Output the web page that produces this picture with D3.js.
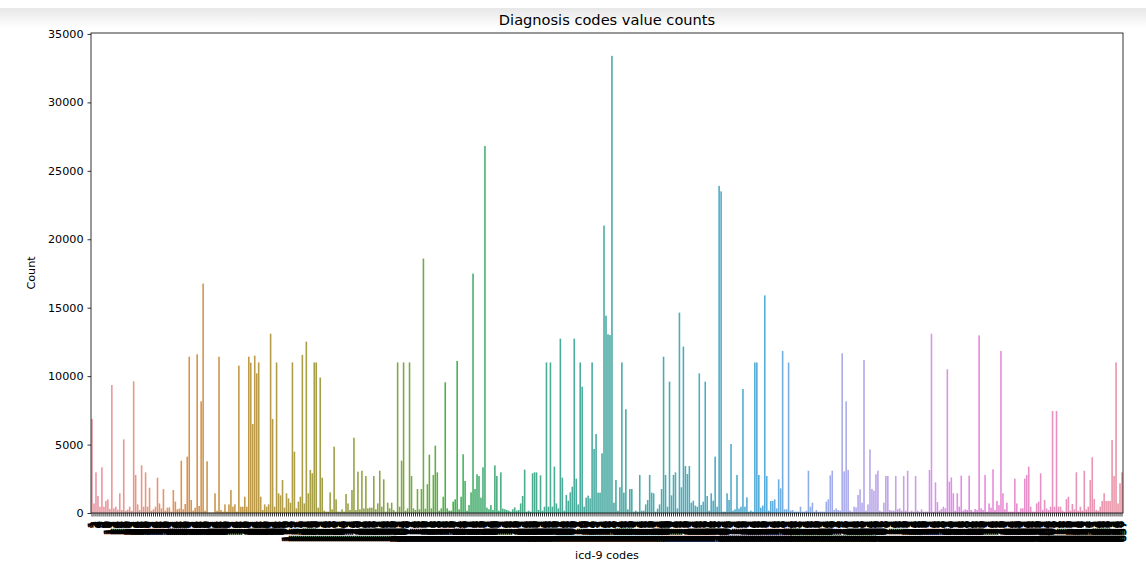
<!DOCTYPE html>
<html>
<head>
<meta charset="utf-8">
<script src="https://cdn.jsdelivr.net/npm/d3@7"></script>
<style>
  body { margin: 0; background: #fff; }
  svg { display: block; font-family: 'DejaVu Sans', sans-serif; }
</style>
</head>
<body>
<div id="vis"></div>
<script>
// value counts, read left to right off the picture (one array per stretch of the axis)
const countsA = [6870,700,2970,1240,460,3340,460,880,1000,300, 9350,340,460,250,1440,220,5380,170,250,460,
  150,9620,2780,630,220,3480,460,2970,460,1850, 170,270,460,2580,700,340,1750,170,390,410,
  100,1680,830,270,320,3820,270,660,4120,11420, 950,170,390,11600,510,8160,16760,170,3780,30,
  30,30,1440,170,11420,220,100,630,100,630, 1680,460,630,100,10770,460,460,1190,460,11420,
  10990,6500,11500,10200];
const countsB = [11000,1190,220,630,460,630,13100,6870,460,11000, 1440,1290,2410,390,1440,1070,755,11000,4480,340,
  830,1190,11550,700,12520,1440,3140,2900,11000,11000, 390,9900,2580,170,100,100,1510,270,4850,1000,
  100,100,270,100,1390,700,220,1680,5500,220, 3020,270,3090,340,2700,340,390,390,2700,270,
  700,3090,460,2460,100,755,340,755,220,100, 11000,460,3820,11000,170,340,11000,2700,340,220,
  1750,270,1750,18590,320,2100,4260,340];
const countsC = [2780,4920,2970,170,340,1190,9550,340,170,170, 830,1000,11110,270,1190,4290,2340,170,580,1510,
  17490,1750,2830,2700,1120,3340,26820,390,270,580, 220,3480,2700,170,2970,320,270,220,170,100,
  270,410,170,220,700,1240,3170,100,170,100, 2900,2970,2970,220,2750,170,460,11000,460,11000,
  460,3390,700,340,12740,2580,170,1315,900,1510, 1920,12740,2510,630,11000,9230,460,1120,1270,1070,
  11000,4680,5770,1490,1490,4360,21000,14420];
const countsD = [13060,13000,33400,755,2410,170,1880,11000,1490,7580, 270,1750,1750,100,170,100,2780,170,170,630,
  950,2780,1490,1440,100,320,630,1750,11420,2780, 460,9600,1290,2780,2970,340,14640,1880,12160,3430,
  2850,3430,755,900,540,460,10200,580,830,9600, 1240,170,1440,900,4120,460,23900,23500,100,100,
  1440,950,5040,170,270,2780,320,460,9060,460, 1140,100,170,100,11000,11000,2780,390,540,15900,
  2700,170,880,880,1000,340,2460,1800];
const countsE = [11840,270,270,11000,170,220,100,100,100,460, 100,100,170,3090,460,755,100,220,100,100,
  100,100,830,1000,2750,3090,220,340,220,170, 11670,3040,8160,3140,170,100,460,410,1315,1730,
  755,11180,170,630,4650,1750,1630,2830,3090,170, 100,755,2700,2700,220,170,170,2700,270,340,
  170,2700,170,3090,100,170,100,2700,170,100, 270,100,100,100,3140,13100,100,2240,800,170,
  290,460,340,10500,2290,2600,1440,170];
const countsF = [1440,460,2730,170,270,220,2730,220,100,290, 220,12980,340,220,2780,100,700,390,3190,220,
  880,580,11840,1440,270,755,100,100,100,2510, 700,100,340,340,2510,2780,3390,460,100,100,
  700,830,2900,220,950,340,220,460,7450,460, 7450,460,460,170,100,1020,1190,170,660,270,
  2970,170,460,170,3090,270,460,2410,4070,1020, 220,170,460,880,1440,880,880,880,5330,2700,
  11000,700,2170,2970];

// icd-9 code labels (unreadable in the picture, one, two and three digit codes in order)
const oneDigitCodes = ['1','2','3','4','5','7','8','9'];
const twoDigitCodes = `10 11 12 13 14 15 16 17 18 19 20 21 22 23 24 25 26 27 28 29 30 31 32 33 34 35 36 37 38 39
  40 41 42 43 44 45 46 47 48 49 50 51 52 53 54 55 56 57 58 59 60 61 62 63 64 65 66 67 68 69
  70 71 72 73 74 75 76 77 78 79 80 81 82 83 84 85 86 87 88 89 90 91 92 93 94 95 96 97 98 99`.trim().split(/\s+/);
const threeDigitCodes = `110 112 114 115 117 131 135 136 141 142 143 145 146 147 149 150 151 152 153 154 155 156 157 158
  160 161 162 163 164 170 171 172 173 174 175 179 180 182 183 184 185 186 187 188 189 191 192 193 194 195 196 197 198 199
  200 201 202 203 204 205 208 210 211 212 214 215 216 217 218 219 220 221 223 225 226 227 228 230 233 235 236 237 238 239
  240 241 242 244 245 246 250 251 252 253 255 256 257 258 259 260 261 262 263 266 268 269 270 271 272 273 274 275 276 277
  278 279 280 281 282 283 284 285 286 287 288 289 290 291 292 293 294 295 296 297 298 299 300 301 303 304 305 306 307 308
  309 310 311 312 314 318 319 320 322 323 324 325 327 331 332 333 334 335 336 337 338 340 341 342 344 345 346 347 348 349
  350 351 352 353 354 355 356 357 358 359 360 361 362 363 364 365 366 368 369 370 372 373 374 375 376 377 378 379 380 381
  382 383 384 385 386 387 388 389 391 394 395 396 397 398 401 402 403 404 405 410 411 412 413 414 415 416 417 420 421 422
  423 424 425 426 427 428 429 430 431 432 433 434 435 436 437 438 440 441 442 443 444 445 446 447 448 451 452 453 454 455
  456 457 458 459 460 461 462 463 464 465 466 470 471 473 474 475 477 478 480 481 482 483 485 486 487 488 490 491 492 493
  494 495 496 500 501 506 507 508 510 511 512 513 514 515 516 517 518 519 520 521 522 523 524 525 526 527 528 529 530 531
  532 533 534 535 536 537 538 540 541 542 543 550 551 552 553 555 556 557 558 560 562 564 565 566 567 568 569 570 571 572
  573 574 575 576 577 578 579 580 581 582 583 584 585 586 588 590 591 592 593 594 595 596 597 598 599 600 601 602 603 604
  605 607 608 610 611 614 615 616 617 618 619 620 621 622 623 625 626 627 632 633 634 637 641 642 643 644 645 646 647 648
  649 651 652 653 654 655 656 657 658 659 660 661 663 664 665 669 674 680 681 682 683 684`.trim().split(/\s+/);

const counts = [].concat(countsA, countsB, countsC, countsD, countsE, countsF);
const codes = [].concat(oneDigitCodes, twoDigitCodes, threeDigitCodes);
const data = counts.map((c, i) => ({ code: codes[i], count: c }));

const width = 1146;
const height = 563;
const margin = { top: 33, right: 23, bottom: 50, left: 91 };
const tickFont = '11.2px';

// seaborn husl palette (HSLuv), then desaturated by 0.75
const M = [
    [3.240969941904521, -1.537383177570093, -0.498610760293],
    [-0.96924363628087, 1.87596750150772, 0.041555057407175],
    [0.055630079696993, -0.20397695888897, 1.056971514242878]
];
const refU = 0.19783000664283, refV = 0.46831999493879;
const kappa = 903.2962962, epsilon = 0.0088564516;

function maxChroma(L, H) {
    const sub1 = Math.pow(L + 16, 3) / 1560896;
    const sub2 = sub1 > epsilon ? sub1 : L / kappa;
    const hr = H / 360 * Math.PI * 2;
    let min = Infinity;
    M.forEach(([m1, m2, m3]) => {
        [0, 1].forEach(t => {
            const top1 = (284517 * m1 - 94839 * m3) * sub2;
            const top2 = (838422 * m3 + 769860 * m2 + 731718 * m1) * L * sub2 - 769860 * t * L;
            const bottom = (632260 * m3 - 126452 * m2) * sub2 + 126452 * t;
            const len = (top2 / bottom) / (Math.sin(hr) - (top1 / bottom) * Math.cos(hr));
            if (len >= 0) min = Math.min(min, len);
        });
    });
    return min;
}

function hsluv(H, S, L) {
    const C = maxChroma(L, H) / 100 * S;
    const hr = H / 360 * Math.PI * 2;
    const varU = Math.cos(hr) * C / (13 * L) + refU;
    const varV = Math.sin(hr) * C / (13 * L) + refV;
    const Y = L <= 8 ? L / kappa : Math.pow((L + 16) / 116, 3);
    const X = -(9 * Y * varU) / ((varU - 4) * varV - varU * varV);
    const Z = (9 * Y - 15 * varV * Y - varV * X) / (3 * varV);
    const rgb = M.map(([a, b, c]) => {
        const v = a * X + b * Y + c * Z;
        const g = v <= 0.0031308 ? 12.92 * v : 1.055 * Math.pow(v, 1 / 2.4) - 0.055;
        return Math.max(0, Math.min(1, g)) * 255;
    });
    return d3.rgb(rgb[0], rgb[1], rgb[2]);
}

const n = data.length;
const palette = data.map((d, i) => {
    const h = ((i / n + 0.01) % 1) * 359;
    const c = d3.hsl(hsluv(h, 0.9 * 99, 0.7 * 99));
    c.s *= 0.75;
    return c.formatHex();
});

const x = d3.scaleBand()
    .domain(data.map(d => d.code))
    .range([margin.left, width - margin.right])
    .paddingInner(0.2)
    .paddingOuter(0.1);

const y = d3.scaleLinear()
    .domain([0, d3.max(counts) * 1.05])
    .range([height - margin.bottom, margin.top]);

const svg = d3.select('#vis')
    .append('svg')
    .attr('width', width)
    .attr('height', height);

// notebook output shadow at the top
const grad = svg.append('defs').append('linearGradient')
    .attr('id', 'shade').attr('x1', 0).attr('x2', 0).attr('y1', 0).attr('y2', 1);
grad.append('stop').attr('offset', 0).attr('stop-color', '#e7e7e7');
grad.append('stop').attr('offset', 1).attr('stop-color', '#ffffff');
svg.append('rect')
    .attr('x', 0).attr('y', 8)
    .attr('width', width).attr('height', 20)
    .attr('fill', 'url(#shade)');

svg.selectAll('rect.bar')
    .data(data)
    .join('rect')
    .attr('class', 'bar')
    .attr('x', d => x(d.code))
    .attr('width', x.bandwidth())
    .attr('y', d => y(d.count))
    .attr('height', d => y(0) - y(d.count))
    .attr('fill', (d, i) => palette[i]);

// axes
const xAxis = svg.append('g')
    .attr('transform', `translate(0, ${y(0)})`)
    .call(d3.axisBottom(x).tickSize(3.5));
xAxis.select('.domain').remove();
xAxis.selectAll('.tick line').attr('stroke', '#000').attr('stroke-width', 0.8);
xAxis.selectAll('.tick text')
    .attr('transform', 'rotate(-90)')
    .attr('x', -8)
    .attr('y', 0)
    .attr('dy', '0.35em')
    .attr('text-anchor', 'end')
    .attr('fill', '#000')
    .attr('stroke', '#000')      // overlapping labels merge into a dark mass, as in the picture
    .attr('stroke-width', 0.7)
    .attr('font-size', tickFont)
    .attr('font-family', 'DejaVu Sans');

const yAxis = svg.append('g')
    .attr('transform', `translate(${margin.left}, 0)`)
    .call(d3.axisLeft(y).tickValues(d3.range(0, 35001, 5000)).tickFormat(d3.format('d')).tickSize(3.5).tickPadding(4));
yAxis.select('.domain').remove();
yAxis.selectAll('.tick line').attr('stroke', '#000').attr('stroke-width', 0.8);
yAxis.selectAll('.tick text')
    .attr('fill', '#000')
    .attr('font-size', tickFont)
    .attr('font-family', 'DejaVu Sans');

// spines
svg.append('rect')
    .attr('x', margin.left)
    .attr('y', margin.top)
    .attr('width', width - margin.right - margin.left)
    .attr('height', y(0) - margin.top)
    .attr('fill', 'none')
    .attr('stroke', '#000')
    .attr('stroke-width', 0.8);

svg.append('text')
    .attr('x', (margin.left + width - margin.right) / 2)
    .attr('y', 25)
    .attr('text-anchor', 'middle')
    .attr('font-size', '14.6px')
    .attr('fill', '#000')
    .text('Diagnosis codes value counts');

svg.append('text')
    .attr('transform', `translate(35, ${(margin.top + y(0)) / 2}) rotate(-90)`)
    .attr('text-anchor', 'middle')
    .attr('font-size', tickFont)
    .attr('fill', '#000')
    .text('Count');

svg.append('text')
    .attr('x', (margin.left + width - margin.right) / 2)
    .attr('y', 559)
    .attr('text-anchor', 'middle')
    .attr('font-size', tickFont)
    .attr('fill', '#000')
    .text('icd-9 codes');
</script>
</body>
</html>
